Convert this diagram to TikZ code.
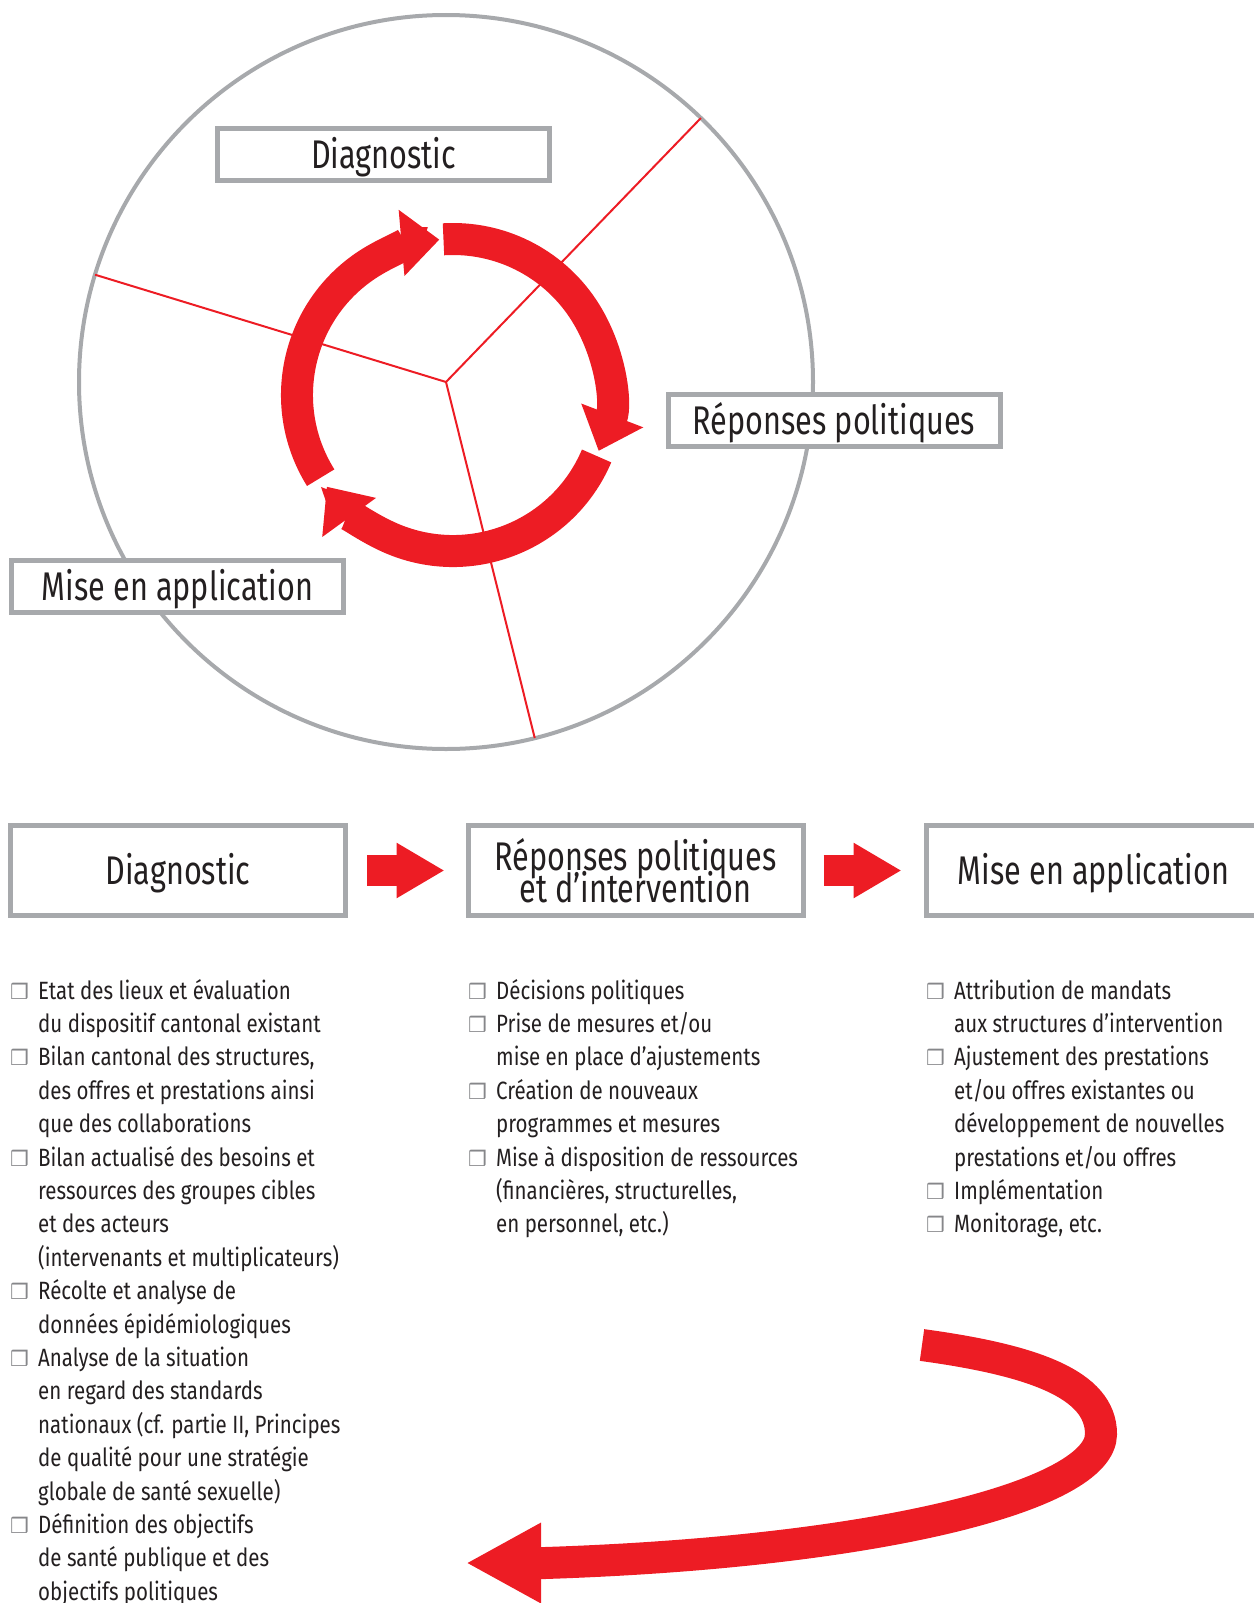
\documentclass[tikz,border=0pt]{standalone}
\usepackage{fontspec}
\setmainfont{Fira Sans}[FakeStretch=0.82]
\newfontfamily\titlefont{Fira Sans}[FakeStretch=0.765]
\newfontfamily\symbfont{DejaVu Sans}
\usetikzlibrary{arrows.meta}

\definecolor{cyclered}{HTML}{ED1C24}
\definecolor{framegray}{HTML}{A7A9AC}
\definecolor{inkdark}{HTML}{231F20}

\newcommand{\cbox}{\makebox[28pt][l]{\symbfont\fontsize{21}{21}\selectfont\textcolor{framegray!80!black}{❒}}}
\newcommand{\titlesize}{\titlefont\fontsize{40}{32}\selectfont\setlength{\lineskiplimit}{-60pt}}

\tikzset{
  wheel/.style={circle, draw=framegray, line width=4pt, minimum size=734pt, inner sep=0pt, outer sep=0pt},
  spoke/.style={cyclered, line width=2pt},
  turn/.style={cyclered, line width=32pt, -{Triangle[length=38pt, width=64pt]}},
  stage/.style={draw=framegray, line width=5pt, fill=white, inner sep=0pt, text=inkdark,
    font=\titlesize, text height=28pt, text depth=0pt},
  toplabel/.style={stage, minimum width=332pt, minimum height=52pt},
  bottomlabel/.style={stage, minimum width=335pt, minimum height=90pt},
  flow/.style={cyclered, line width=31pt, -{Triangle[length=48pt, width=52pt]}},
  items/.style={anchor=base west, inner sep=0pt, text=inkdark, font=\fontsize{25}{33.4}\selectfont}
}

\begin{document}
\begin{tikzpicture}[x=1pt,y=1pt]
\useasboundingbox (0,0) rectangle (1253,-1603);

\node[wheel] (wheel) at (446,-382) {};
\coordinate (hub) at (446,-382);
\draw[spoke] (hub) -- (wheel.46.7);
\draw[spoke] (hub) -- (wheel.163);
\draw[spoke] (hub) -- (wheel.284);

\coordinate (ring) at (453,-395);
\draw[turn] ([shift={(212:156)}]ring) arc[start angle=212, end angle=95, radius=156];
\draw[turn] ([shift={(93.5:156)}]ring) arc[start angle=93.5, end angle=-21, radius=156];
\draw[turn] ([shift={(-23:156)}]ring) arc[start angle=-23, end angle=-144, radius=156];

\node[toplabel] (diagtop) at (383.5,-154.5) {Diagnostic};
\node[toplabel] (reptop) at (834,-420) {Réponses politiques};
\node[toplabel] (misetop) at (177.5,-586.5) {Mise en application};

\node[bottomlabel] (diag) at (178,-870.5) {Diagnostic};
\node[bottomlabel, align=center, text height=, text depth=] (rep) at (635.5,-870.5) {Réponses politiques\\et d’intervention};
\node[bottomlabel] (mise) at (1093.5,-870.5) {Mise en application};

\draw[flow, shorten <=19pt, shorten >=21pt] (diag) -- (rep);
\draw[flow, shorten <=18pt, shorten >=22pt] (rep) -- (mise);

\node[items] (diaglist) at (10,-999) {\begin{tabular}[t]{@{}l@{}l@{}}
\cbox & Etat des lieux et évaluation\\
 & du dispositif cantonal existant\\
\cbox & Bilan cantonal des structures,\\
 & des offres et prestations ainsi\\
 & que des collaborations\\
\cbox & Bilan actualisé des besoins et\\
 & ressources des groupes cibles\\
 & et des acteurs\\
 & (intervenants et multiplicateurs)\\
\cbox & Récolte et analyse de\\
 & données épidémiologiques\\
\cbox & Analyse de la situation\\
 & en regard des standards\\
 & nationaux (cf. partie II, Principes\\
 & de qualité pour une stratégie\\
 & globale de santé sexuelle)\\
\cbox & Définition des objectifs\\
 & de santé publique et des\\
 & objectifs politiques
\end{tabular}};

\node[items] (replist) at (468,-999) {\begin{tabular}[t]{@{}l@{}l@{}}
\cbox & Décisions politiques\\
\cbox & Prise de mesures et/ou\\
 & mise en place d’ajustements\\
\cbox & Création de nouveaux\\
 & programmes et mesures\\
\cbox & Mise à disposition de ressources\\
 & (financières, structurelles,\\
 & en personnel, etc.)
\end{tabular}};

\node[items] (miselist) at (926,-999) {\begin{tabular}[t]{@{}l@{}l@{}}
\cbox & Attribution de mandats\\
 & aux structures d’intervention\\
\cbox & Ajustement des prestations\\
 & et/ou offres existantes ou\\
 & développement de nouvelles\\
 & prestations et/ou offres\\
\cbox & Implémentation\\
\cbox & Monitorage, etc.
\end{tabular}};

\coordinate (backstart) at (922,-1345);
\coordinate (backend) at (466,-1563);
\draw[cyclered, line width=32pt, -{Triangle[length=75pt, width=75pt]}] (backstart)
  .. controls (1032,-1360) and (1101,-1384) .. (1101,-1434)
  .. controls (1101,-1495) and (880,-1552) .. (545,-1563) -- (backend);
\end{tikzpicture}
\end{document}
